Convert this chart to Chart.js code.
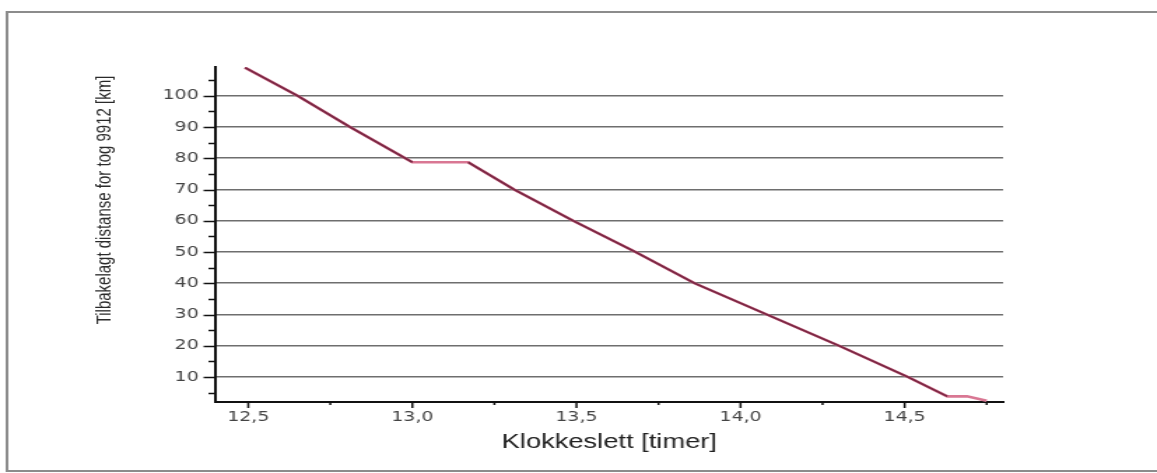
<!DOCTYPE html>
<html>
<head>
<meta charset="utf-8">
<script src="https://cdn.jsdelivr.net/npm/chart.js@4"></script>
<style>
  html, body { margin: 0; padding: 0; background: #fff; overflow: hidden; }
  /* the plot is drawn narrow and widened to the page */
  #wrap { width: 827px; height: 473px; transform: scaleX(1.399); transform-origin: 0 0; }
</style>
</head>
<body>
<div id="wrap"><canvas id="myChart" width="827" height="473"></canvas></div>
<script>
// run of train 9912: clock time (hours) against distance left (km)
const timeHours = [12.49, 12.65, 12.81, 13.0, 13.17, 13.31, 13.49, 13.68, 13.86, 14.08, 14.30, 14.51, 14.63, 14.69, 14.75];
const distanceKm = [109, 100, 90, 78.7, 78.7, 70, 60, 50, 40, 30, 20, 10, 3.8, 3.8, 2.4];

const yTickValues = [10, 20, 30, 40, 50, 60, 70, 80, 90, 100];
const xTickValues = [12.5, 13.0, 13.5, 14.0, 14.5];
const xTitle = 'Klokkeslett [timer]';
const yTitle = 'Tilbakelagt distanse for tog 9912 [km]';

const points = timeHours.map((t, i) => ({ x: t, y: distanceKm[i] }));
const lastIndex = points.length - 1;

const frame = {
    id: 'frame',
    beforeDraw(chart) {
        const { ctx } = chart;
        ctx.save();
        ctx.strokeStyle = '#8c8c8c';
        ctx.lineWidth = 2;
        ctx.strokeRect(5, 12, chart.width + 20, 459);
        ctx.restore();
    }
};

const tickMarks = {
    id: 'tickMarks',
    afterDraw(chart) {
        const { ctx, scales: { x, y } } = chart;
        ctx.save();
        ctx.strokeStyle = '#111';
        ctx.lineWidth = 1.5;
        ctx.beginPath();
        for (let v = 5; v <= 105; v += 5) {
            const py = Math.round(y.getPixelForValue(v)) + 0.5;
            const len = v % 10 === 0 ? 8.5 : 5;
            ctx.moveTo(y.right - len, py);
            ctx.lineTo(y.right, py);
        }
        for (let v = 12.5; v <= 14.76; v += 0.25) {
            const px = x.getPixelForValue(v);
            const major = Math.abs(v * 2 - Math.round(v * 2)) < 0.01;
            ctx.moveTo(px, x.top);
            ctx.lineTo(px, x.top + (major ? 6 : 3));
        }
        ctx.stroke();

        // axis titles
        ctx.fillStyle = '#222';
        ctx.textAlign = 'center';
        ctx.textBaseline = 'middle';
        ctx.font = '19.5px "Liberation Sans", Arial, sans-serif';
        ctx.fillText(xTitle, (chart.chartArea.left + chart.chartArea.right) / 2, 443);

        ctx.translate(75, 200);
        ctx.rotate(-Math.PI / 2);
        ctx.font = '15px "Liberation Sans", Arial, sans-serif';
        ctx.fillStyle = '#2a2a2a';
        ctx.fillText(yTitle, 0, 0);
        ctx.restore();
    }
};

const ctx = document.getElementById('myChart').getContext('2d');

const chart = new Chart(ctx, {
    type: 'line',
    data: {
        datasets: [{
            data: points,
            borderColor: '#7a2743',
            borderWidth: 1.8,
            pointRadius: 0,
            tension: 0,
            order: 0,
            segment: {
                borderColor: c => (c.p0.parsed.y === c.p1.parsed.y || c.p1DataIndex === lastIndex) ? 'rgba(0,0,0,0)' : undefined,
            },
        }, {
            // pale outline under the whole run, incl. the stops
            data: points,
            borderColor: '#d97793',
            borderWidth: 2.6,
            pointRadius: 0,
            tension: 0,
            order: 1,
        }]
    },
    options: {
        responsive: false,
        animation: false,
        layout: { padding: { left: 0, top: 67, right: 110, bottom: 0 } },
        plugins: { legend: { display: false }, tooltip: { enabled: false } },
        scales: {
            x: {
                type: 'linear',
                min: 12.4,
                max: 14.8,
                afterFit: s => { s.height = 71; },
                afterBuildTicks: s => { s.ticks = xTickValues.map(v => ({ value: v })); },
                grid: { drawOnChartArea: false, drawTicks: false },
                border: { display: true, color: '#111', width: 2 },
                ticks: {
                    padding: 7,
                    color: '#444',
                    font: { family: 'DejaVu Sans', size: 13.5 },
                    maxRotation: 0,
                    callback: v => v.toFixed(1).replace('.', ','),
                },
            },
            y: {
                min: 2,
                max: 109.2,
                afterFit: s => { s.width = 154; },
                afterBuildTicks: s => { s.ticks = yTickValues.map(v => ({ value: v })); },
                grid: { color: '#6e6e6e', lineWidth: 1.6, drawTicks: false },
                border: { display: true, color: '#111', width: 2 },
                ticks: {
                    padding: 12,
                    color: '#444',
                    font: { family: 'DejaVu Sans', size: 13.5 },
                    callback: v => String(v),
                },
            }
        }
    },
    plugins: [frame, tickMarks]
});
</script>
</body>
</html>
